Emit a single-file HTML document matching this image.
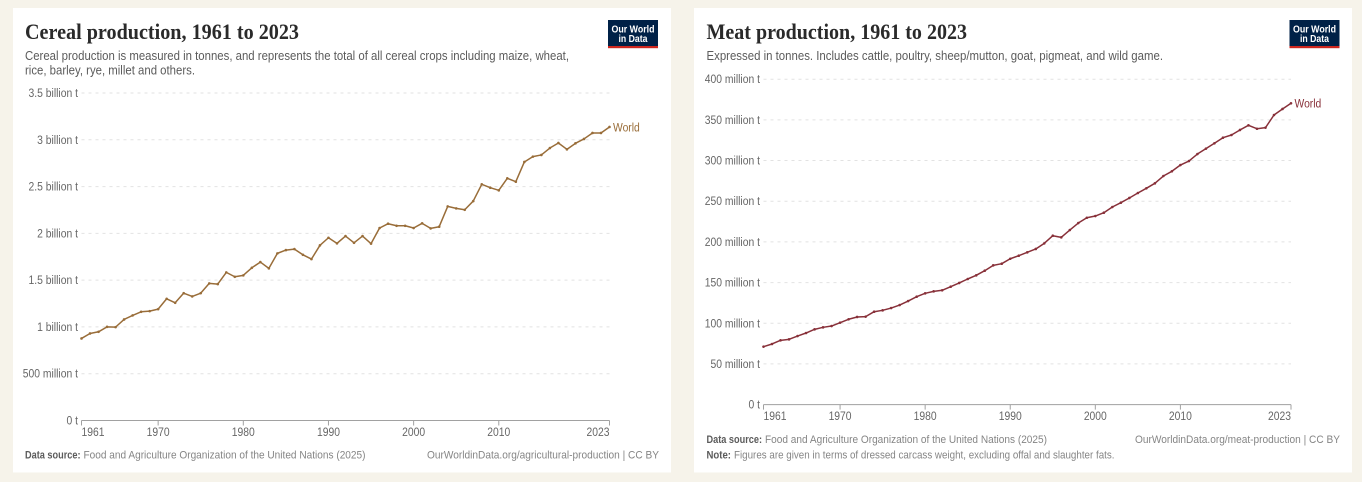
<!DOCTYPE html>
<html lang="en">
<head>
<meta charset="utf-8">
<title>Cereal and meat production, 1961 to 2023</title>
<style>
html,body{margin:0;padding:0;background:#f6f3ea;width:1362px;height:482px;overflow:hidden}
svg{display:block;position:absolute;left:0;top:0}
text{font-family:"Liberation Sans",sans-serif}
.title{font-family:"Liberation Serif",serif;font-weight:700;font-size:22px;fill:#2a2a2a}
.sub{font-size:12.5px;fill:#5b5b5b}
.foot{font-size:11px;fill:#858585}
.footb{font-size:11px;fill:#5b5b5b;font-weight:700}
.logo{font-size:10px;font-weight:700;fill:#fff}
</style>
</head>
<body>
<svg id="page" xmlns="http://www.w3.org/2000/svg" width="1362" height="482" viewBox="0 0 1362 482">
  <rect x="13" y="8" width="658" height="464.5" fill="#fff"/>
  <rect x="694" y="8" width="658" height="464.5" fill="#fff"/>

  <g>
    <text class="title" x="25" y="39" textLength="274" lengthAdjust="spacingAndGlyphs">Cereal production, 1961 to 2023</text>
    <text class="sub" x="25" y="60" textLength="544" lengthAdjust="spacingAndGlyphs">Cereal production is measured in tonnes, and represents the total of all cereal crops including maize, wheat,</text>
    <text class="sub" x="25" y="74.5" textLength="170" lengthAdjust="spacingAndGlyphs">rice, barley, rye, millet and others.</text>
    <a>
      <rect x="608" y="20" width="50" height="28" fill="#002147"/>
      <rect x="608" y="46" width="50" height="2.2" fill="#ce261e"/>
      <text class="logo" x="633" y="32.5" text-anchor="middle" textLength="43" lengthAdjust="spacingAndGlyphs">Our World</text>
      <text class="logo" x="633" y="42" text-anchor="middle" textLength="29" lengthAdjust="spacingAndGlyphs">in Data</text>
    </a>
  </g>

  <g>
    <text class="title" x="706.5" y="39" textLength="260.5" lengthAdjust="spacingAndGlyphs">Meat production, 1961 to 2023</text>
    <text class="sub" x="706.5" y="60" textLength="456.5" lengthAdjust="spacingAndGlyphs">Expressed in tonnes. Includes cattle, poultry, sheep/mutton, goat, pigmeat, and wild game.</text>
    <a>
      <rect x="1289.5" y="20" width="50" height="28" fill="#002147"/>
      <rect x="1289.5" y="46" width="50" height="2.2" fill="#ce261e"/>
      <text class="logo" x="1314.5" y="32.5" text-anchor="middle" textLength="43" lengthAdjust="spacingAndGlyphs">Our World</text>
      <text class="logo" x="1314.5" y="42" text-anchor="middle" textLength="29" lengthAdjust="spacingAndGlyphs">in Data</text>
    </a>
  </g>

  <g id="cereal-plot"></g>
  <g id="meat-plot"></g>

  <g>
    <text class="footb" x="25" y="458.5" textLength="55.5" lengthAdjust="spacingAndGlyphs">Data source:</text>
    <text class="foot" x="83.5" y="458.5" textLength="282" lengthAdjust="spacingAndGlyphs">Food and Agriculture Organization of the United Nations (2025)</text>
    <text class="foot" x="659" y="458.5" text-anchor="end" textLength="232" lengthAdjust="spacingAndGlyphs">OurWorldinData.org/agricultural-production | CC BY</text>
  </g>
  <g>
    <text class="footb" x="706.5" y="443" textLength="55.5" lengthAdjust="spacingAndGlyphs">Data source:</text>
    <text class="foot" x="765" y="443" textLength="282" lengthAdjust="spacingAndGlyphs">Food and Agriculture Organization of the United Nations (2025)</text>
    <text class="foot" x="1340" y="443" text-anchor="end" textLength="205" lengthAdjust="spacingAndGlyphs">OurWorldinData.org/meat-production | CC BY</text>
    <text class="footb" x="706.5" y="458.5" textLength="24.5" lengthAdjust="spacingAndGlyphs">Note:</text>
    <text class="foot" x="734" y="458.5" textLength="380.5" lengthAdjust="spacingAndGlyphs">Figures are given in terms of dressed carcass weight, excluding offal and slaughter fats.</text>
  </g>
</svg>
<script>
const years = [1961,1962,1963,1964,1965,1966,1967,1968,1969,1970,1971,1972,1973,1974,1975,1976,1977,1978,1979,1980,1981,1982,1983,1984,1985,1986,1987,1988,1989,1990,1991,1992,1993,1994,1995,1996,1997,1998,1999,2000,2001,2002,2003,2004,2005,2006,2007,2008,2009,2010,2011,2012,2013,2014,2015,2016,2017,2018,2019,2020,2021,2022,2023];
const xTickYears = [1961,1970,1980,1990,2000,2010,2023];

const cerealValues = [0.877,0.930,0.948,1.001,0.998,1.080,1.123,1.162,1.169,1.190,1.301,1.258,1.361,1.326,1.361,1.465,1.458,1.583,1.536,1.551,1.632,1.693,1.626,1.786,1.821,1.832,1.771,1.725,1.872,1.953,1.893,1.971,1.899,1.971,1.890,2.057,2.103,2.081,2.081,2.057,2.107,2.053,2.071,2.288,2.267,2.252,2.345,2.524,2.488,2.460,2.588,2.552,2.763,2.820,2.838,2.912,2.966,2.898,2.962,3.009,3.073,3.073,3.137];
const cerealTicks = [0,0.5,1,1.5,2,2.5,3,3.5];
const cerealTickLabels = ["0 t","500 million t","1 billion t","1.5 billion t","2 billion t","2.5 billion t","3 billion t","3.5 billion t"];

const meatValues = [71.2,74.5,79.0,80.2,84.3,88.0,92.5,95.0,96.6,100.7,104.9,107.7,108.1,114.2,115.9,118.7,122.4,127.3,132.6,136.8,139.2,140.5,144.9,149.5,154.4,158.9,164.6,171.2,173.2,179.3,183.0,187.2,191.3,198.2,207.6,205.6,214.6,223.2,229.7,231.8,235.9,242.9,248.2,254.0,260.1,265.9,272.0,281.0,286.8,294.5,299.4,308.0,314.6,321.2,328.1,331.4,337.6,343.3,339.1,340.4,356.0,363.4,370.4];
const meatTicks = [0,50,100,150,200,250,300,350,400];
const meatTickLabels = ["0 t","50 million t","100 million t","150 million t","200 million t","250 million t","300 million t","350 million t","400 million t"];

const SVG_NS = "http://www.w3.org/2000/svg";

function node(tag, parent, attrs) {
  const el = document.createElementNS(SVG_NS, tag);
  for (const k in attrs) el.setAttribute(k, attrs[k]);
  parent.appendChild(el);
  return el;
}

function squeezeText(el, factor) {
  const w = el.getComputedTextLength();
  el.setAttribute("textLength", (w * factor).toFixed(1));
  el.setAttribute("lengthAdjust", "spacingAndGlyphs");
}

function drawChart(rootId, box, xs, values, yTicks, yLabels, xTicks, color, seriesName) {
  const root = document.getElementById(rootId);
  const xMin = xs[0], xMax = xs[xs.length - 1];
  const yMax = yTicks[yTicks.length - 1];
  const xScale = v => box.left + (v - xMin) / (xMax - xMin) * (box.right - box.left);
  const yScale = v => box.bottom - v / yMax * (box.bottom - box.top);

  yTicks.forEach((t, i) => {
    const y = yScale(t);
    if (t !== 0) {
      const grid = node("line", root, {x1: box.left, x2: box.right, y1: y, y2: y, stroke: "#e2e2e2", "stroke-width": 1, "stroke-dasharray": "3,4"});
      
      
    }
    const lab = node("text", root, {x: box.left - 3.5, y: y + 4, "text-anchor": "end", "font-size": 11.5, fill: "#666666"});
    lab.textContent = yLabels[i];
    
    
    squeezeText(lab, 0.9);
  });

  const axis = node("line", root, {x1: box.left, x2: box.right, y1: box.bottom, y2: box.bottom, stroke: "#a1a1a1", "stroke-width": 1});
  
  

  xTicks.forEach((yr, i) => {
    const x = xScale(yr);
    const tick = node("line", root, {x1: x, x2: x, y1: box.bottom, y2: box.bottom + 5, stroke: "#a1a1a1", "stroke-width": 1});
    
    
    const anchor = i === 0 ? "start" : (i === xTicks.length - 1 ? "end" : "middle");
    const lab = node("text", root, {x: x, y: box.bottom + 15.5, "text-anchor": anchor, "font-size": 11.5, fill: "#666666"});
    lab.textContent = yr;
    
    
    squeezeText(lab, 0.9);
  });

  const pts = xs.map((yr, i) => xScale(yr).toFixed(2) + "," + yScale(values[i]).toFixed(2)).join(" ");
  const line = node("polyline", root, {points: pts, fill: "none", stroke: color, "stroke-width": 1.5, "stroke-linejoin": "round"});
  
  

  xs.forEach((yr, i) => {
    const dot = node("circle", root, {cx: xScale(yr), cy: yScale(values[i]), r: 1.3, fill: color});
    
    
  });

  const last = values[values.length - 1];
  const name = node("text", root, {x: xScale(xMax) + 3.5, y: yScale(last) + 4.3, "font-size": 11.5, fill: color});
  name.textContent = seriesName;
  
  
  squeezeText(name, 0.9);
}

drawChart("cereal-plot", {left: 81.5, right: 609.5, top: 93, bottom: 420.5}, years, cerealValues, cerealTicks, cerealTickLabels, xTickYears, "#996d39", "World");
drawChart("meat-plot", {left: 763.5, right: 1291, top: 79.2, bottom: 404.6}, years, meatValues, meatTicks, meatTickLabels, xTickYears, "#883039", "World");
</script>
</body>
</html>
